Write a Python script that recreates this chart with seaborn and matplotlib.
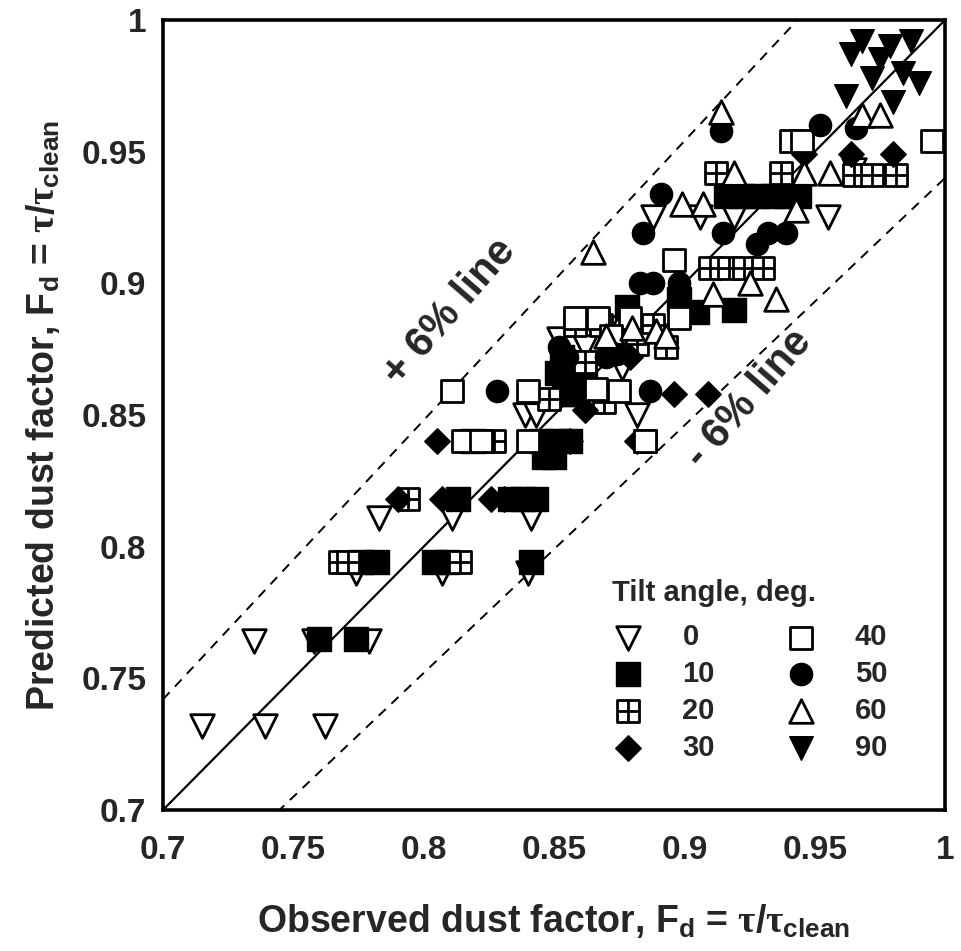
import numpy as np
import pandas as pd
import matplotlib.pyplot as plt
import seaborn as sns
from matplotlib.path import Path
from matplotlib.ticker import MultipleLocator, FixedLocator, FixedFormatter

# -------------------- Data --------------------
tilt0_obs = [0.715, 0.739, 0.762, 0.735, 0.758, 0.779, 0.774, 0.807, 0.840, 0.783, 0.811, 0.841,
             0.839, 0.843, 0.882, 0.862, 0.870, 0.888, 0.906, 0.919, 0.955, 0.852, 0.876, 0.965]
tilt0_pred = [0.732, 0.732, 0.732, 0.764, 0.764, 0.764, 0.790, 0.790, 0.790, 0.811, 0.811, 0.811,
              0.850, 0.850, 0.850, 0.876, 0.883, 0.925, 0.925, 0.925, 0.925, 0.879, 0.868, 0.943]

tilt10_obs = [0.760, 0.774, 0.776, 0.782, 0.804, 0.809, 0.841, 0.813, 0.833, 0.838, 0.843,
              0.819, 0.845, 0.851, 0.856, 0.846, 0.850, 0.854, 0.858, 0.851, 0.853, 0.857, 0.862,
              0.878, 0.898, 0.919, 0.916, 0.922, 0.928, 0.934, 0.939, 0.944, 0.905]
tilt10_pred = [0.765, 0.765, 0.794, 0.794, 0.794, 0.794, 0.794, 0.818, 0.818, 0.818, 0.818,
               0.840, 0.840, 0.840, 0.840, 0.834, 0.834, 0.858, 0.858, 0.866, 0.872, 0.864, 0.862,
               0.891, 0.894, 0.890, 0.933, 0.933, 0.933, 0.933, 0.933, 0.933, 0.889]

tilt20_obs = [0.768, 0.771, 0.814, 0.794, 0.822, 0.827, 0.885, 0.848, 0.866, 0.869, 0.858, 0.868,
              0.888, 0.882, 0.893, 0.910, 0.917, 0.923, 0.930, 0.912, 0.937, 0.965, 0.972, 0.981, 0.862]
tilt20_pred = [0.794, 0.794, 0.794, 0.818, 0.840, 0.840, 0.840, 0.856, 0.858, 0.855, 0.884, 0.884,
               0.884, 0.877, 0.876, 0.906, 0.906, 0.906, 0.906, 0.942, 0.942, 0.941, 0.941, 0.941, 0.870]

tilt30_obs = [0.790, 0.807, 0.826, 0.831, 0.805, 0.882, 0.896, 0.909, 0.879, 0.872,
              0.946, 0.964, 0.980, 0.856, 0.862]
tilt30_pred = [0.818, 0.818, 0.818, 0.818, 0.840, 0.840, 0.858, 0.858, 0.872, 0.877,
               0.949, 0.949, 0.949, 0.840, 0.852]

tilt40_obs = [0.815, 0.840, 0.885, 0.811, 0.840, 0.875, 0.866, 0.858, 0.867, 0.879, 0.898, 0.872,
              0.896, 0.941, 0.945, 0.995, 0.822]
tilt40_pred = [0.840, 0.840, 0.840, 0.859, 0.859, 0.859, 0.860, 0.887, 0.887, 0.887, 0.887, 0.880,
               0.909, 0.954, 0.954, 0.954, 0.840]

tilt50_obs = [0.828, 0.887, 0.852, 0.855, 0.870, 0.874, 0.883, 0.888, 0.898, 0.884, 0.915, 0.928,
              0.932, 0.939, 0.891, 0.944, 0.914, 0.952, 0.966, 0.851]
tilt50_pred = [0.859, 0.859, 0.876, 0.872, 0.872, 0.873, 0.900, 0.900, 0.900, 0.919, 0.919, 0.915,
               0.919, 0.919, 0.934, 0.933, 0.958, 0.960, 0.959, 0.866]

tilt60_obs = [0.865, 0.870, 0.889, 0.893, 0.880, 0.911, 0.935, 0.899, 0.907, 0.943, 0.919, 0.946,
              0.956, 0.968, 0.975, 0.914, 0.925]
tilt60_pred = [0.912, 0.880, 0.882, 0.880, 0.883, 0.896, 0.894, 0.930, 0.930, 0.928, 0.942, 0.942,
               0.942, 0.964, 0.964, 0.965, 0.900]

tilt90_obs = [0.964, 0.979, 0.987, 0.990, 0.962, 0.972, 0.980, 0.975, 0.984, 0.968]
tilt90_pred = [0.987, 0.990, 0.992, 0.976, 0.971, 0.978, 0.969, 0.985, 0.980, 0.992]

TILTS = [0, 10, 20, 30, 40, 50, 60, 90]
tick_vals = [0.7, 0.75, 0.8, 0.85, 0.9, 0.95, 1.0]
tick_labels = ['0.7', '0.75', '0.8', '0.85', '0.9', '0.95', '1']

obs = [tilt0_obs, tilt10_obs, tilt20_obs, tilt30_obs, tilt40_obs, tilt50_obs, tilt60_obs, tilt90_obs]
pred = [tilt0_pred, tilt10_pred, tilt20_pred, tilt30_pred, tilt40_pred, tilt50_pred, tilt60_pred, tilt90_pred]
df = pd.concat([pd.DataFrame({'tilt': t, 'observed': o, 'predicted': p})
                for t, o, p in zip(TILTS, obs, pred)], ignore_index=True)

# -------------------- Style --------------------
sns.set_style('white')
plt.rcParams['font.family'] = ['Liberation Sans', 'DejaVu Sans']
plt.rcParams['font.weight'] = 'bold'
plt.rcParams['mathtext.fontset'] = 'custom'
plt.rcParams['mathtext.rm'] = 'Liberation Sans:bold'
plt.rcParams['mathtext.bf'] = 'Liberation Sans:bold'
plt.rcParams['mathtext.it'] = 'Liberation Serif'

# square with a cross inside (the "20 deg" symbol)
grid_square = Path(
    [(-1, -1), (1, -1), (1, 1), (-1, 1), (-1, -1), (0, -1), (0, 1), (-1, 0), (1, 0)],
    [Path.MOVETO, Path.LINETO, Path.LINETO, Path.LINETO, Path.CLOSEPOLY,
     Path.MOVETO, Path.LINETO, Path.MOVETO, Path.LINETO])

# marker, face colour, size (pt^2), edge width
STYLES = {
    0: ('v', 'white', 17**2, 2.0),
    10: ('s', 'black', 17**2, 1.0),
    20: (grid_square, 'white', 16**2, 2.0),
    30: ('D', 'black', 13**2, 1.0),
    40: ('s', 'white', 16**2, 2.0),
    50: ('o', 'black', 16**2, 1.0),
    60: ('^', 'white', 17**2, 2.0),
    90: ('v', 'black', 17**2, 1.0),
}

fig = plt.figure(figsize=(9.61, 9.51), dpi=100)
ax = fig.add_axes([0.1696, 0.1483, 0.8138, 0.8307])

# -------------------- Reference lines --------------------
line_x = np.array([0.7, 1.0])
ax.plot(line_x, line_x, color='black', lw=1.6, zorder=1)
ax.plot(line_x, line_x * 1.06, color='black', lw=1.4, ls=(0, (5, 4)), zorder=1)
ax.plot(line_x, line_x * 0.94, color='black', lw=1.4, ls=(0, (5, 4)), zorder=1)

# -------------------- Scatter --------------------
for t in TILTS:
    marker, face, size, lw = STYLES[t]
    sns.scatterplot(data=df[df['tilt'] == t], x='observed', y='predicted', ax=ax,
                    marker=marker, s=size, color=face, edgecolor='black', linewidth=lw,
                    label=str(t), zorder=3)

ax.text(0.810, 0.889, '+ 6% line', rotation=49, ha='center', va='center',
        fontsize=30, fontweight='bold', rotation_mode='anchor')
ax.text(0.925, 0.856, '- 6% line', rotation=49, ha='center', va='center',
        fontsize=30, fontweight='bold', rotation_mode='anchor')

# -------------------- Axes --------------------
ax.set_xlim(0.7, 1.0)
ax.set_ylim(0.7, 1.0)
for axis in (ax.xaxis, ax.yaxis):
    axis.set_major_locator(FixedLocator(tick_vals))
    axis.set_major_formatter(FixedFormatter(tick_labels))
    axis.set_minor_locator(MultipleLocator(0.01))
ax.tick_params(which='major', direction='in', length=17, width=1.6, labelsize=24,
               top=False, right=False)
ax.tick_params(axis='x', which='major', pad=18)
ax.tick_params(axis='y', which='major', pad=12)
ax.tick_params(which='minor', direction='in', length=9, width=1.6, top=False, right=False)
for sp in ax.spines.values():
    sp.set_linewidth(2.6)
    sp.set_color('black')

ax.set_xlabel(r'Observed dust factor, F$_\mathrm{d}$ = $\tau/\tau_\mathrm{clean}$',
              fontsize=27, fontweight='bold', labelpad=26)
ax.set_ylabel(r'Predicted dust factor, F$_\mathrm{d}$ = $\tau/\tau_\mathrm{clean}$',
              fontsize=27, fontweight='bold', labelpad=14)

leg = ax.legend(ncol=2, title='Tilt angle, deg.', frameon=False, fontsize=21,
                title_fontsize=21, alignment='left', loc='upper left',
                bbox_to_anchor=(0.616, 0.413), bbox_transform=fig.transFigure,
                handlelength=1.1, handletextpad=1.3, columnspacing=2.4,
                labelspacing=0.3, borderpad=0.2)
leg._legend_box.sep = 12

fig.savefig('out.png', dpi=100)
